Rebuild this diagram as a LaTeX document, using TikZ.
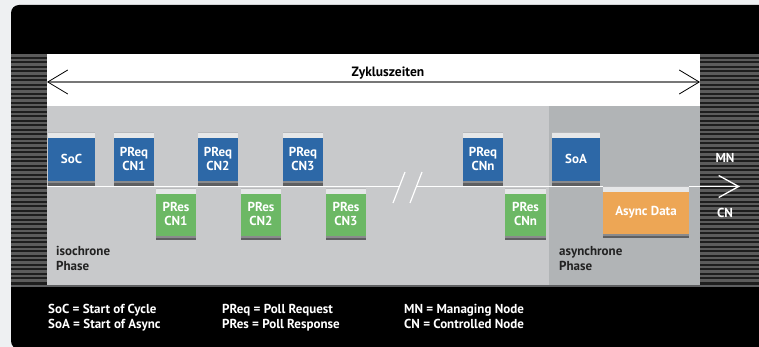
\documentclass[tikz,border=0pt]{standalone}
\usepackage{fontspec}
\setmainfont{PT Sans}
\usetikzlibrary{arrows.meta}
\definecolor{pagebg}{HTML}{EEF0F2}
\definecolor{stripebg}{HTML}{1E1E1E}
\definecolor{stripe}{HTML}{5C5C5C}
\definecolor{isogrey}{HTML}{C8C9CB}
\definecolor{asygrey}{HTML}{B1B4B6}
\definecolor{pblue}{HTML}{2D68A7}
\definecolor{pgreen}{HTML}{6CB865}
\definecolor{porange}{HTML}{EDA655}
\definecolor{bandlight}{HTML}{E6E7E8}
\definecolor{bandtop}{HTML}{B8B9BB}
\definecolor{banddark}{HTML}{5E5F61}
\definecolor{bandmid}{HTML}{8A8B8D}
\definecolor{zline}{HTML}{777777}
\definecolor{darktext}{HTML}{222222}
\tikzset{
  pkt/.style={rectangle, inner sep=0pt, align=center, text=white,
    font=\fontsize{13}{14}\selectfont\bfseries,
    path picture={
      \fill[bandlight] (path picture bounding box.north west) rectangle ([yshift=-6pt]path picture bounding box.north east);
      \fill[bandtop] (path picture bounding box.north west) rectangle ([yshift=-1.5pt]path picture bounding box.north east);
      \fill[bandmid] (path picture bounding box.south west) rectangle ([yshift=4.5pt]path picture bounding box.south east);
      \fill[banddark] (path picture bounding box.south west) rectangle ([yshift=2.5pt]path picture bounding box.south east);
    }},
  req/.style={pkt, fill=pblue, minimum width=40pt, minimum height=54pt},
  res/.style={pkt, fill=pgreen, minimum width=40pt, minimum height=52pt},
  phase/.style={anchor=north west, align=left, text=darktext, inner sep=0pt,
    font=\fontsize{13}{15}\selectfont\bfseries},
  legend/.style={anchor=north west, align=left, text=white, inner sep=0pt,
    font=\fontsize{13}{15}\selectfont\bfseries},
  side/.style={text=white, font=\fontsize{13}{14}\selectfont\bfseries},
  bus/.style={white, line width=1.6pt},
}
\begin{document}
\begin{tikzpicture}[x=1pt,y=-1pt]
\useasboundingbox (0,0) rectangle (759,347);
\clip (0,0) rectangle (759,347);
% page and panel
\fill[pagebg] (0,0) rectangle (759,347);
\fill[black, rounded corners=8pt] (11,5) rectangle (790,349);
% striped side regions
\fill[stripebg] (11,54) rectangle (47,285);
\fill[stripebg] (700,54) rectangle (759,285);
\foreach \yy in {55.5,60,...,284} {
  \draw[stripe, line width=2.2pt] (11,\yy) -- (47,\yy);
  \draw[stripe, line width=2.2pt] (700,\yy) -- (759,\yy);
}
% bands
\fill[white] (47,54) rectangle (700,106);
\fill[isogrey] (47,106) rectangle (549,285);
\fill[asygrey] (549,106) rectangle (700,285);
\draw[banddark, line width=2.5pt] (11,286) -- (759,286);
% cycle time arrow
\coordinate (z1) at (47,82);
\coordinate (z2) at (700,82);
\draw[zline, line width=1.8pt,
  {Straight Barb[length=20pt,width=24pt,line width=0.8pt,black]}-{Straight Barb[length=20pt,width=24pt,line width=0.8pt,black]}]
  (z1) -- (z2);
\node[text=black, font=\fontsize{13.5}{14}\selectfont\bfseries] (zyk) at (388,73) {Zykluszeiten};
% bus line
\coordinate (b0) at (47,186.5);
\coordinate (b1) at (400,186.5);
\coordinate (b2) at (416,186.5);
\coordinate (b3) at (740,186.5);
\draw[bus] (b0) -- (b1);
\draw[bus, -{Straight Barb[length=20pt,width=22pt,line width=1.3pt]}] (b2) -- (b3);
\draw[white, line width=1.2pt] (405,172) -- (393,203);
\draw[white, line width=1.2pt] (422,172) -- (410,203);
% MN frames
\node[req, minimum width=47pt] (soc) at (71.5,159) {SoC};
\node[req] (preq1) at (134,159) {PReq\\CN1};
\node[req] (preq2) at (218,159) {PReq\\CN2};
\node[req] (preq3) at (303,159) {PReq\\CN3};
\node[req] (preqn) at (483,159) {PReq\\CNn};
\node[req, minimum width=48pt] (soa) at (576,159) {SoA};
% CN frames
\node[res] (pres1) at (176,214) {PRes\\CN1};
\node[res] (pres2) at (261,214) {PRes\\CN2};
\node[res] (pres3) at (346,214) {PRes\\CN3};
\node[res, minimum width=41pt] (presn) at (525.5,214) {PRes\\CNn};
\node[res, fill=porange, minimum width=86pt] (async) at (646,212) {Async Data};
% phase labels
\node[phase] (iso) at (56,246.5) {isochrone\\Phase};
\node[phase] (asy) at (559,246.5) {asynchrone\\Phase};
% side labels
\node[side] (mn) at (725,158) {MN};
\node[side] (cn) at (725,213) {CN};
% legend
\node[legend] (lg1) at (48,304.5) {SoC = Start of Cycle\\SoA = Start of Async};
\node[legend] (lg2) at (222,304.5) {PReq = Poll Request\\PRes = Poll Response};
\node[legend] (lg3) at (404,304.5) {MN = Managing Node\\CN = Controlled Node};
\end{tikzpicture}
\end{document}
